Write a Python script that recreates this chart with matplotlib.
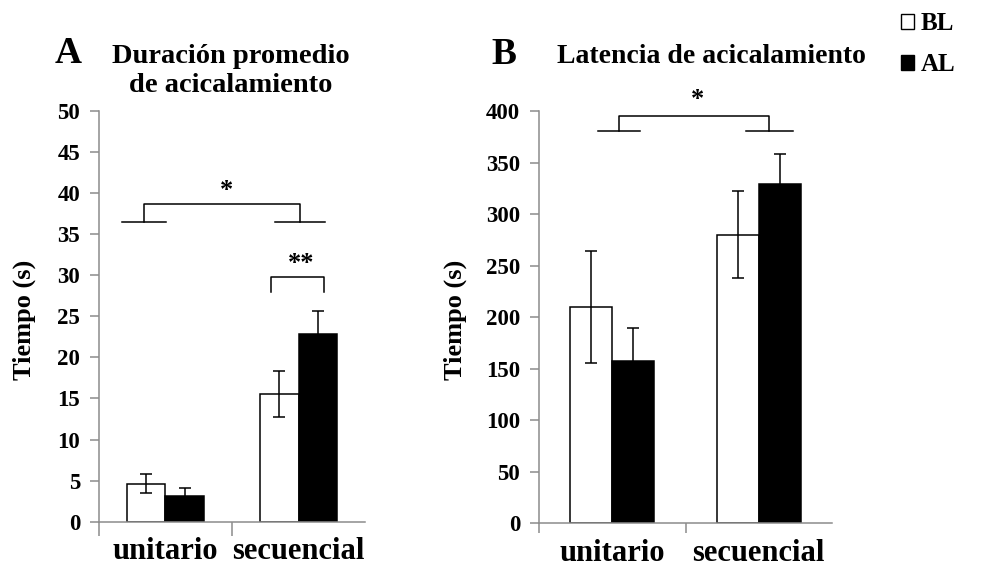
import matplotlib
matplotlib.use("Agg")
import matplotlib.pyplot as plt
from matplotlib.patches import Patch
import numpy as np

plt.rcParams['font.family'] = ['Liberation Serif', 'DejaVu Serif']
plt.rcParams['font.weight'] = 'bold'

# datos: media y error estandar por grupo
categorias = ['unitario', 'secuencial']
dur_bl = [4.65, 15.55]
dur_bl_err = [1.1, 2.85]
dur_al = [3.1, 22.9]
dur_al_err = [0.95, 2.75]
lat_bl = [210, 280]
lat_bl_err = [54, 42]
lat_al = [157, 329]
lat_al_err = [32, 29]

GRIS = '#8c8c8c'
ANCHO = 0.288


def barras(ax, bl, bl_err, al, al_err):
    x = np.arange(len(categorias))
    ax.bar(x - ANCHO / 2, bl, ANCHO, color='white', edgecolor='black', linewidth=1.1,
           yerr=bl_err, error_kw=dict(ecolor='black', elinewidth=1.1, capsize=4.5, capthick=1.1))
    ax.bar(x + ANCHO / 2, al, ANCHO, color='black', edgecolor='black', linewidth=1.1,
           yerr=al_err, error_kw=dict(ecolor='black', elinewidth=1.1, capsize=4.5, capthick=1.1))
    ax.set_xlim(-0.5, 1.5)
    ax.set_xticks(x)
    ax.set_xticklabels(categorias, fontsize=22)
    # marcas entre categorias
    ax.set_xticks([-0.5, 0.5], minor=True)
    for s in ['top', 'right']:
        ax.spines[s].set_visible(False)
    for s in ['left', 'bottom']:
        ax.spines[s].set_color(GRIS)
        ax.spines[s].set_linewidth(1.1)
    ax.tick_params(axis='x', which='major', length=0, pad=11)
    ax.tick_params(axis='y', length=6.5, color=GRIS, width=1.1, pad=7, labelsize=16.5)


def corchete(ax, y_bajo, y_alto, izq, der, caidas):
    # lineas cortas sobre cada grupo y el puente que las une
    kw = dict(color='black', linewidth=1.1, clip_on=False)
    ax.plot(izq, [y_bajo, y_bajo], **kw)
    ax.plot(der, [y_bajo, y_bajo], **kw)
    ax.plot([caidas[0], caidas[0], caidas[1], caidas[1]],
            [y_bajo, y_alto, y_alto, y_bajo], **kw)


fig = plt.figure(figsize=(9.82, 5.67), dpi=100)
axA = fig.add_axes([0.1008, 0.0799, 0.2709, 0.7243])
axB = fig.add_axes([0.5489, 0.0771, 0.2984, 0.7271])

# A: duracion promedio
barras(axA, dur_bl, dur_bl_err, dur_al, dur_al_err)
axA.set_ylim(0, 50)
axA.set_yticks(range(0, 51, 5))
axA.tick_params(axis='x', which='minor', length=10, color=GRIS, width=1.1)
corchete(axA, 36.45, 38.7, [-0.326, 0.005], [0.825, 1.2], [-0.16, 1.01])
axA.text(0.456, 39.5, '*', ha='center', va='baseline', fontsize=19)
axA.plot([0.79, 0.79, 1.19, 1.19], [28.0, 29.8, 29.8, 28.0], color='black', linewidth=1.1)
axA.text(1.02, 30.65, '**', ha='center', va='baseline', fontsize=19)

# B: latencia
barras(axB, lat_bl, lat_bl_err, lat_al, lat_al_err)
axB.set_ylim(0, 400)
axB.set_yticks(range(0, 401, 50))
axB.tick_params(axis='x', which='minor', length=7.2, color=GRIS, width=1.1)
corchete(axB, 380.5, 395.6, [-0.097, 0.19], [0.91, 1.234], [0.046, 1.07])
axB.text(0.58, 404.8, '*', ha='center', va='baseline', fontsize=19)

# letras de panel, titulos y ejes
fig.text(55 / 982, 1 - 63 / 567, 'A', fontsize=27, va='baseline')
fig.text(491 / 982, 1 - 64 / 567, 'B', fontsize=27, va='baseline')
fig.text(231 / 982, 1 - 63 / 567, 'Duración promedio', fontsize=20.5, ha='center', va='baseline')
fig.text(231 / 982, 1 - 91.5 / 567, 'de acicalamiento', fontsize=20.5, ha='center', va='baseline')
fig.text(711 / 982, 1 - 63 / 567, 'Latencia de acicalamiento', fontsize=20, ha='center', va='baseline')
fig.text(24 / 982, 1 - 320 / 567, 'Tiempo (s)', fontsize=19, rotation=90, ha='center', va='center')
fig.text(455 / 982, 1 - 320 / 567, 'Tiempo (s)', fontsize=19, rotation=90, ha='center', va='center')

fig.legend(handles=[Patch(facecolor='white', edgecolor='black', linewidth=1),
                    Patch(facecolor='black', edgecolor='black')],
           labels=['BL', 'AL'], loc='upper left', bbox_to_anchor=(888 / 982, 1.0),
           frameon=False, fontsize=18, handlelength=0.55, handleheight=0.55,
           handletextpad=0.25, labelspacing=0.7, borderpad=0)

fig.savefig('out.png', dpi=100)
